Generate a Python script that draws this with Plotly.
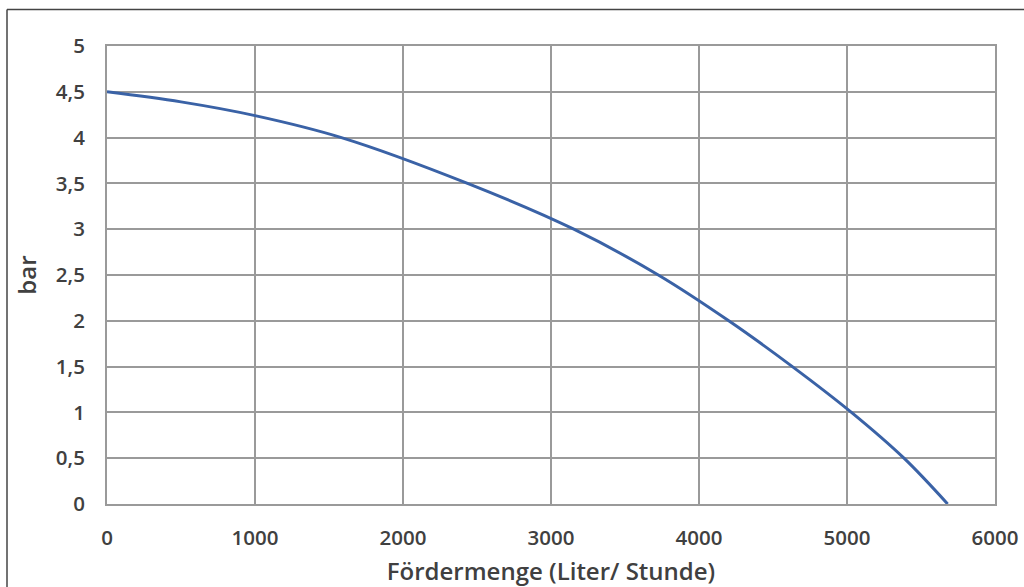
import plotly.graph_objects as go

flow = [0, 500, 1000, 1584, 2436, 3154, 3725, 4201, 4631, 5030, 5385, 5680]
pressure = [4.5, 4.39, 4.24, 4.0, 3.5, 3.0, 2.5, 2.0, 1.5, 1.0, 0.5, 0.0]

x_ticks = [0, 1000, 2000, 3000, 4000, 5000, 6000]
y_ticks = [0, 0.5, 1, 1.5, 2, 2.5, 3, 3.5, 4, 4.5, 5]
y_labels = ["0", "0,5", "1", "1,5", "2", "2,5", "3", "3,5", "4", "4,5", "5"]

W, H = 1024, 587
L, R, T, B = 107, 29, 46, 83

fig = go.Figure()
fig.add_trace(go.Scatter(
    x=flow, y=pressure, mode="lines",
    line=dict(color="#3a62a6", width=3, shape="spline", smoothing=1.0),
    showlegend=False, hoverinfo="skip",
))

font = dict(family="Open Sans", size=20.5, color="#404040", weight=600)
title_font = dict(family="Open Sans", size=24, color="#404040", weight=600)
grid = "#9a9a9a"

fig.update_layout(
    width=W, height=H,
    margin=dict(l=L, r=R, t=T, b=B, autoexpand=False),
    paper_bgcolor="white", plot_bgcolor="white",
    font=font,
    xaxis=dict(
        range=[0, 6000], tickvals=x_ticks, ticktext=[str(v) for v in x_ticks],
        showgrid=True, gridcolor=grid, gridwidth=2,
        showline=True, linecolor=grid, linewidth=2, mirror=True,
        zeroline=False, ticks="", ticklabelstandoff=14, ticklabeloverflow="allow",
        automargin=False,
        title=dict(text="Fördermenge (Liter/ Stunde)", standoff=14, font=title_font),
        fixedrange=True,
    ),
    yaxis=dict(
        range=[0, 5], tickvals=y_ticks, ticktext=y_labels,
        showgrid=True, gridcolor=grid, gridwidth=2,
        showline=True, linecolor=grid, linewidth=2, mirror=True,
        zeroline=False, ticks="", ticklabelstandoff=16, ticklabeloverflow="allow",
        automargin=False,
        title=dict(text="bar", standoff=12, font=title_font),
        fixedrange=True,
    ),
)

# outer frame: only the top and left edges fall inside the picture
pw, ph = W - L - R, H - T - B
fx = (7 - L) / pw
fy = ((H - B) - 9.5) / ph
fx_end = (W + 20 - L) / pw
fy_end = ((H - B) - (H + 20)) / ph
frame = dict(color="#444444", width=1.5)
fig.add_shape(type="line", xref="paper", yref="paper", x0=fx, x1=fx_end, y0=fy, y1=fy,
              line=frame, layer="below")
fig.add_shape(type="line", xref="paper", yref="paper", x0=fx, x1=fx, y0=fy, y1=fy_end,
              line=frame, layer="below")

# remove the default 8px page margin and scrollbars so the figure fills the window exactly
fig.write_html("out.html", config={"displayModeBar": False},
               post_script="document.body.style.margin='0';"
                           "document.body.style.overflow='hidden';"
                           "document.documentElement.style.overflow='hidden';")
